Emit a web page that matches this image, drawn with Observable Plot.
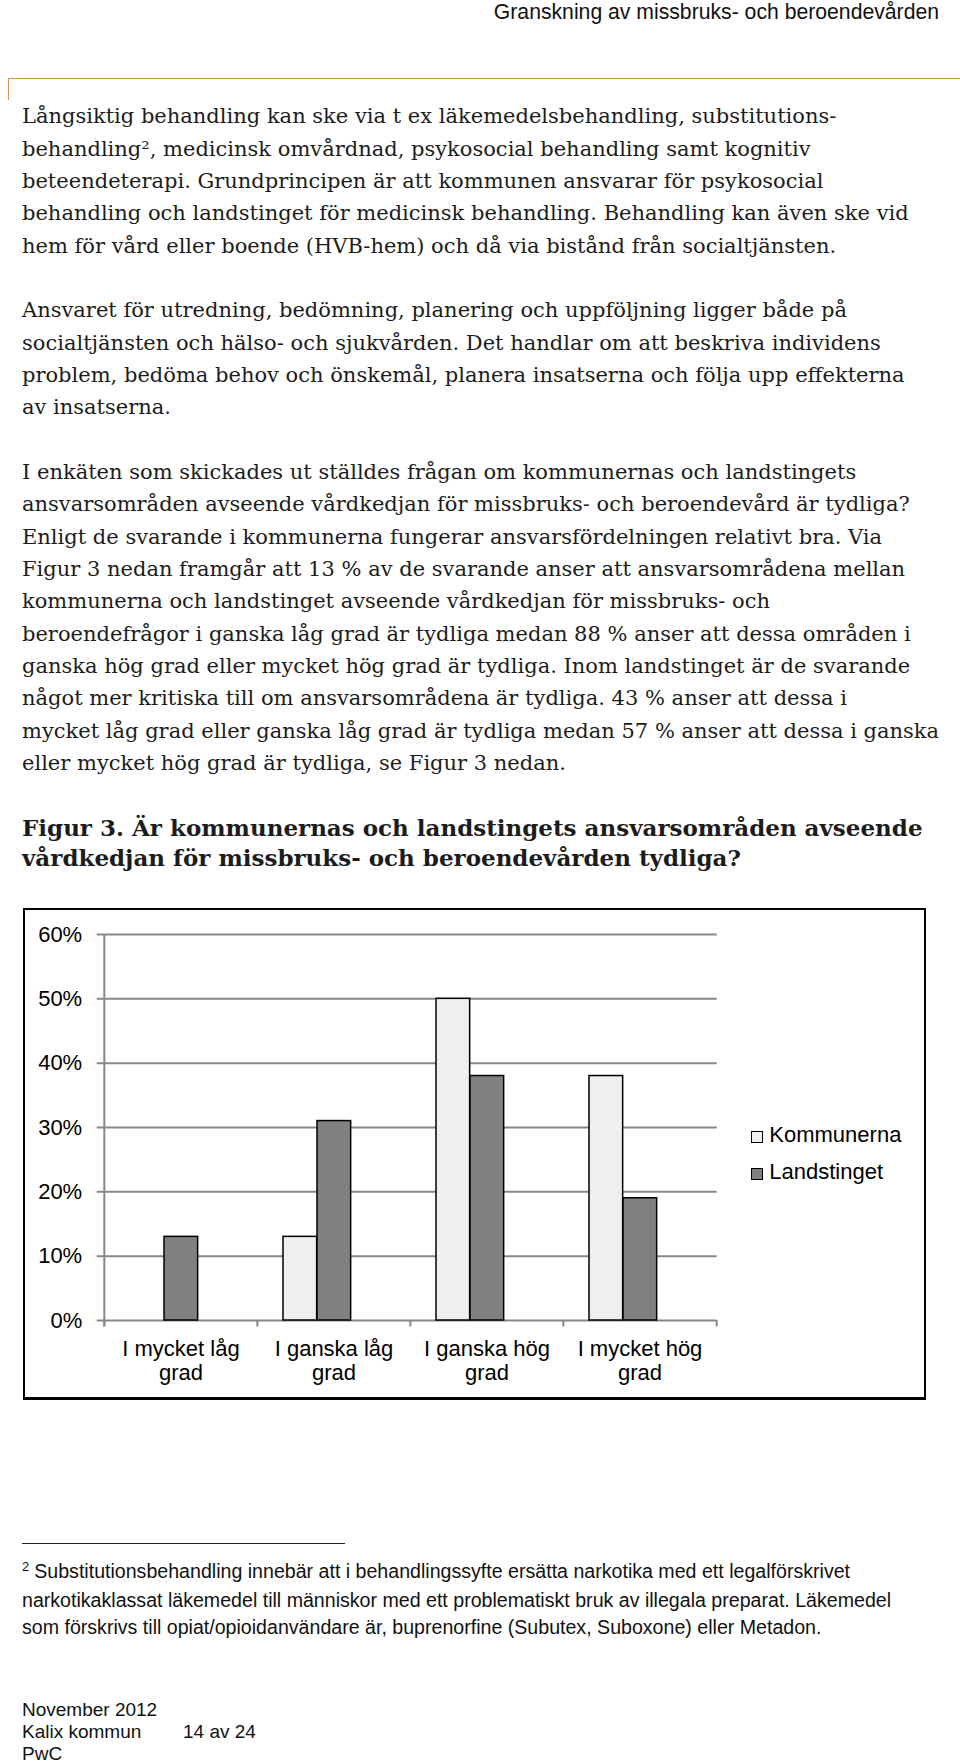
<!DOCTYPE html>
<html><head><meta charset="utf-8">
<script src="https://cdn.jsdelivr.net/npm/d3@7"></script>
<script src="https://cdn.jsdelivr.net/npm/@observablehq/plot@0.6"></script>
<style>
html,body{margin:0;padding:0;background:#fff}
body{width:960px;height:1762px;position:relative;overflow:hidden}
.abs{position:absolute;white-space:nowrap}
.serif{font-family:"DejaVu Serif",serif;color:#1c1c1c}
.sans{font-family:"Liberation Sans",Arial,sans-serif;color:#111}
</style></head><body>

<div class="abs sans" id="header" style="right:21px;top:0.5px;font-size:21.2px;line-height:21.2px;">Granskning av missbruks- och beroendevården</div>
<div class="abs" style="left:8px;top:77.5px;width:952px;height:1.6px;background:#d4924a"></div>
<div class="abs" style="left:7.5px;top:77.5px;width:1.6px;height:22px;background:#d4924a"></div>

<div class="abs serif" id="body" style="left:22px;top:100.4px;font-size:21px;line-height:32.33px;"></div>
<div class="abs serif" id="heading" style="left:22px;top:813.4px;font-size:23px;line-height:30px;font-weight:bold;"></div>

<div class="abs" id="box" style="left:23px;top:908px;width:899px;height:487px;border-left:2px solid #000;border-top:2px solid #000;border-right:2.5px solid #000;border-bottom:3px solid #000;"></div>
<div class="abs" id="chart" style="left:25px;top:910px;"></div>
<div class="abs sans" id="legend" style="left:0;top:0;"></div>

<div class="abs" style="left:22px;top:1542.5px;width:323px;height:1.5px;background:#222"></div>
<div class="abs sans" id="footnote" style="left:22px;top:1557.7px;font-size:19.6px;line-height:27px;"></div>
<div class="abs sans" id="footer" style="left:22px;top:1699.3px;font-size:19px;line-height:21.7px;"></div>

<script>
// ---------- text content ----------
const bodyLines = [
  "Långsiktig behandling kan ske via t ex läkemedelsbehandling, substitutions-",
  "behandling², medicinsk omvårdnad, psykosocial behandling samt kognitiv",
  "beteendeterapi. Grundprincipen är att kommunen ansvarar för psykosocial",
  "behandling och landstinget för medicinsk behandling. Behandling kan även ske vid",
  "hem för vård eller boende (HVB-hem) och då via bistånd från socialtjänsten.",
  "",
  "Ansvaret för utredning, bedömning, planering och uppföljning ligger både på",
  "socialtjänsten och hälso- och sjukvården. Det handlar om att beskriva individens",
  "problem, bedöma behov och önskemål, planera insatserna och följa upp effekterna",
  "av insatserna.",
  "",
  "I enkäten som skickades ut ställdes frågan om kommunernas och landstingets",
  "ansvarsområden avseende vårdkedjan för missbruks- och beroendevård är tydliga?",
  "Enligt de svarande i kommunerna fungerar ansvarsfördelningen relativt bra. Via",
  "Figur 3 nedan framgår att 13 % av de svarande anser att ansvarsområdena mellan",
  "kommunerna och landstinget avseende vårdkedjan för missbruks- och",
  "beroendefrågor i ganska låg grad är tydliga medan 88 % anser att dessa områden i",
  "ganska hög grad eller mycket hög grad är tydliga. Inom landstinget är de svarande",
  "något mer kritiska till om ansvarsområdena är tydliga. 43 % anser att dessa i",
  "mycket låg grad eller ganska låg grad är tydliga medan 57 % anser att dessa i ganska",
  "eller mycket hög grad är tydliga, se Figur 3 nedan."
];
const headingLines = [
  "Figur 3. Är kommunernas och landstingets ansvarsområden avseende",
  "vårdkedjan för missbruks- och beroendevården tydliga?"
];
const footnoteLines = [
  "Substitutionsbehandling innebär att i behandlingssyfte ersätta narkotika med ett legalförskrivet",
  "narkotikaklassat läkemedel till människor med ett problematiskt bruk av illegala preparat. Läkemedel",
  "som förskrivs till opiat/opioidanvändare är, buprenorfine (Subutex, Suboxone) eller Metadon."
];
const footerLines = ["November 2012", "Kalix kommun", "PwC"];
const pageLabel = "14 av 24";

// ---------- chart data ----------
const categories = ["I mycket låg\ngrad", "I ganska låg\ngrad", "I ganska hög\ngrad", "I mycket hög\ngrad"];
const series = ["Kommunerna", "Landstinget"];
const kommunerna = [0.00, 0.13, 0.50, 0.38];
const landstinget = [0.13, 0.31, 0.38, 0.19];
const yTicks = [0, 0.1, 0.2, 0.3, 0.4, 0.5, 0.6];
const seriesColors = ["#efefef", "#808080"];

// ---------- render text ----------
function fill(id, lines) {
  const el = document.getElementById(id);
  lines.forEach(t => {
    const d = document.createElement("div");
    d.textContent = t === "" ? "\u00a0" : t;
    el.appendChild(d);
  });
}
fill("body", bodyLines);
fill("heading", headingLines);
(function(){
  const el = document.getElementById("footnote");
  footnoteLines.forEach((t, i) => {
    const d = document.createElement("div");
    if (i === 0) {
      const s = document.createElement("span");
      s.textContent = "2";
      s.style.cssText = "font-size:13px;position:relative;top:-7px;margin-right:5px";
      d.appendChild(s);
    }
    d.appendChild(document.createTextNode(t));
    el.appendChild(d);
  });
  const f = document.getElementById("footer");
  footerLines.forEach((t, i) => {
    const d = document.createElement("div");
    d.style.position = "relative";
    d.textContent = t;
    if (i === 1) {
      const p = document.createElement("span");
      p.textContent = pageLabel;
      p.style.cssText = "position:absolute;left:161px;top:0";
      d.appendChild(p);
    }
    f.appendChild(d);
  });
})();

// ---------- chart ----------
const rows = categories.flatMap((c, i) => [
  {category: c, series: series[0], value: kommunerna[i]},
  {category: c, series: series[1], value: landstinget[i]}
]);

const W = 899, H = 487, mL = 78.3, mR = 207.3, mT = 24, mB = 77;
const bw = (W - mL - mR) / categories.length;
const grid = "#878787";

const chart = Plot.plot({
  width: W, height: H,
  marginLeft: mL, marginRight: mR, marginTop: mT, marginBottom: mB,
  style: {background: "transparent", fontFamily: "'Liberation Sans', Arial, sans-serif", fontSize: "22px", color: "#000"},
  x: {type: "band", domain: categories, padding: 0, axis: null},
  y: {domain: [0, 0.6], axis: null},
  color: {domain: series, range: seriesColors},
  marks: [
    Plot.ruleY(yTicks, {y: d => d, stroke: grid, strokeWidth: 2, insetLeft: -6.6}),
    Plot.ruleX([categories[0]], {x: d => d, dx: -bw / 2, y1: 0.6, y2: 0, stroke: grid, strokeWidth: 2, insetBottom: -6.5}),
    Plot.ruleX(categories, {x: d => d, dx: -bw / 2, y1: 0, y2: 0, stroke: grid, strokeWidth: 2, insetBottom: -6.5}),
    Plot.ruleX([categories[categories.length - 1]], {x: d => d, dx: bw / 2, y1: 0, y2: 0, stroke: grid, strokeWidth: 2, insetBottom: -6.5}),
    Plot.barY(rows.filter(d => d.series === series[0] && d.value > 0), {
      x: "category", y: "value", fill: "series", stroke: "#000", strokeWidth: 1.5,
      insetLeft: 26, insetRight: bw - 60
    }),
    Plot.barY(rows.filter(d => d.series === series[1] && d.value > 0), {
      x: "category", y: "value", fill: "series", stroke: "#000", strokeWidth: 1.5,
      insetLeft: 60, insetRight: bw - 94
    }),
    Plot.axisY({ticks: yTicks, tickFormat: d3.format(".0%"), tickSize: 0, tickPadding: 21.6, fill: "#000", fontSize: 22, label: null}),
    Plot.axisX({tickSize: 0, tickPadding: 17.7, lineHeight: 1.12, fill: "#000", fontSize: 22, label: null})
  ]
});
document.getElementById("chart").appendChild(chart);

// ---------- legend (HTML) ----------
const legend = document.getElementById("legend");
series.forEach((s, i) => {
  const sq = document.createElement("div");
  sq.style.cssText = `position:absolute;left:751px;top:${[1130.7, 1168][i]}px;width:10px;height:10px;border:1px solid #000;background:${seriesColors[i]}`;
  legend.appendChild(sq);
  const t = document.createElement("div");
  t.className = "sans";
  t.style.cssText = `position:absolute;left:769.3px;top:${[1123.7, 1161.4][i]}px;font-size:22px;line-height:22px;color:#000;white-space:nowrap`;
  t.textContent = s;
  legend.appendChild(t);
});
</script>
</body></html>
